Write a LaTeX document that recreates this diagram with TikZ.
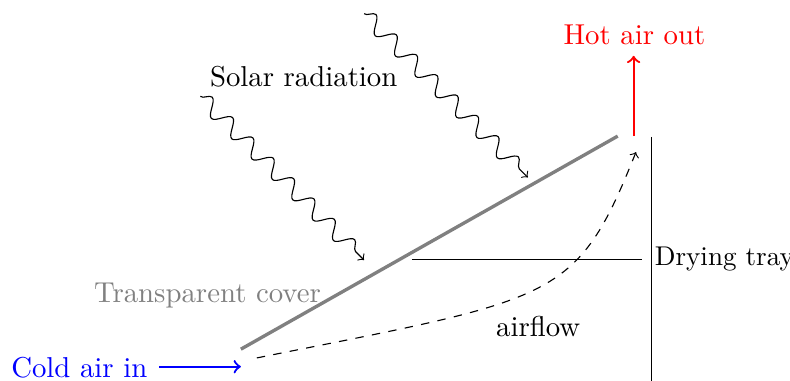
\documentclass[tikz,border=0pt]{standalone}
\usepackage{amsmath}
\usetikzlibrary{arrows}
\usetikzlibrary{decorations.pathmorphing}
\tikzset{radiation/.style={->,decorate,decoration={snake,amplitude=2.8pt,segment length=10.3pt,post length=0.5mm}}}
\tikzset{label text/.style={font=\fontsize{10.3}{12}\selectfont}}
\begin{document}
\begin{tikzpicture}
  \useasboundingbox (0,0) rectangle (9.937,4.792);
  % Corner points of the dryer
  \coordinate (coverLow) at (3.03,0.40);
  \coordinate (coverHigh) at (7.77,3.08);
  \coordinate (wallTop) at (8.19,3.07);
  \coordinate (wallBottom) at (8.19,0);
  \coordinate (trayLeft) at (5.18,1.53);
  \coordinate (trayRight) at (8.08,1.53);
  \coordinate (coldStart) at (2.00,0.18);
  \coordinate (coldEnd) at (3.03,0.18);
  \coordinate (hotStart) at (7.97,3.08);
  \coordinate (hotEnd) at (7.97,4.09);
  \coordinate (flowStart) at (3.23,0.29);
  \coordinate (flowEnd) at (8.00,2.88);
  \coordinate (sunOneStart) at (2.52,3.58);
  \coordinate (sunOneEnd) at (4.58,1.52);
  \coordinate (sunTwoStart) at (4.58,4.62);
  \coordinate (sunTwoEnd) at (6.64,2.56);
  % Labels
  \node[label text] (solar) at (3.82,3.83) {Solar radiation};
  \node[label text,gray] (cover) at (2.61,1.08) {Transparent cover};
  \node[label text] (airflow) at (6.77,0.69) {airflow};
  \node[font=\fontsize{9.7}{12}\selectfont,anchor=west,inner sep=0pt] (tray) at (8.23,1.54) {Drying tray};
  \node[label text,blue,anchor=east,inner sep=0pt] (cold) at (1.86,0.17) {Cold air in};
  \node[label text,red] (hot) at (7.98,4.35) {Hot air out};
  % Dryer parts
  \draw[gray,very thick] (coverLow) -- (coverHigh);
  \draw (wallTop) -- (wallBottom);
  \draw (trayLeft) -- (trayRight);
  % Air in and out
  \draw[->,blue,thick] (coldStart) -- (coldEnd);
  \draw[->,red,thick] (hotStart) -- (hotEnd);
  \draw[->,dashed] (flowStart) .. controls (7.006,1.044) and (7.245,0.994) .. (flowEnd);
  % Sun rays
  \draw[radiation] (sunOneStart) -- (sunOneEnd);
  \draw[radiation] (sunTwoStart) -- (sunTwoEnd);
\end{tikzpicture}
\end{document}
